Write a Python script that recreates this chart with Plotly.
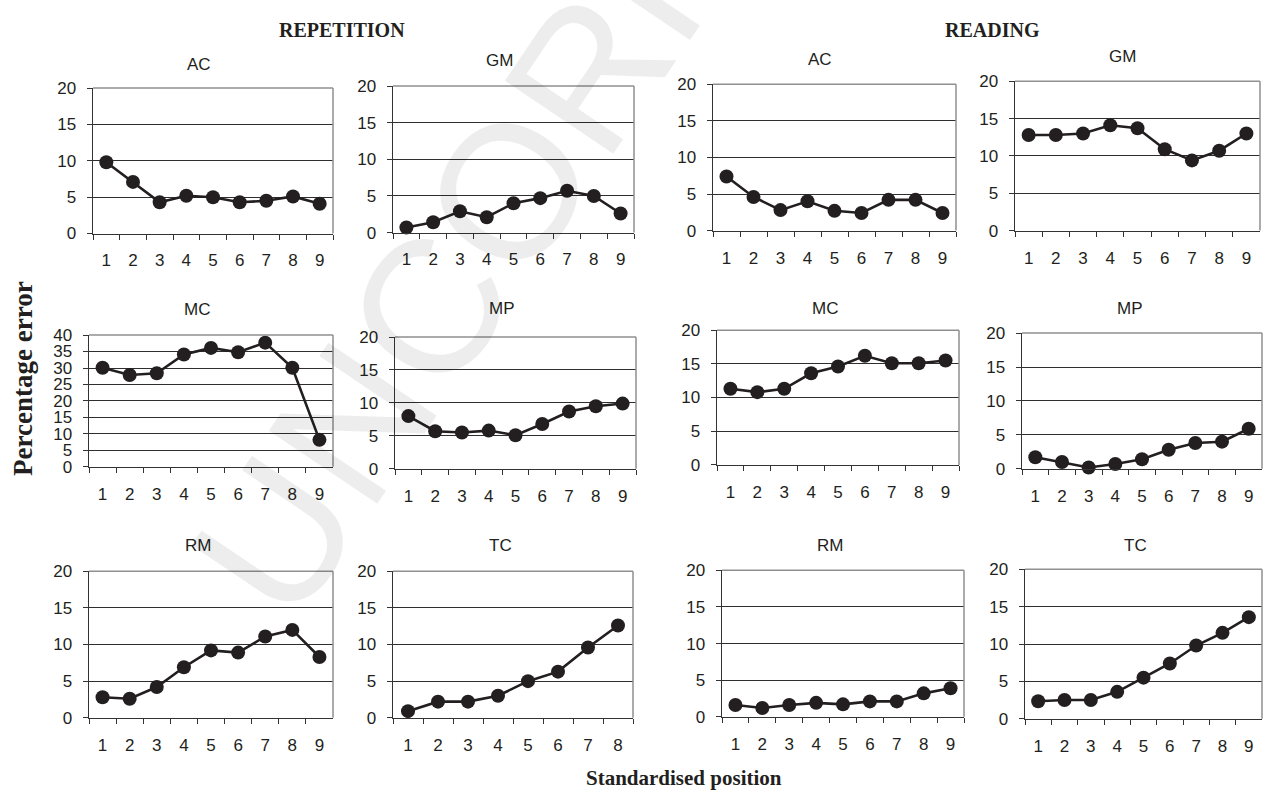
import plotly.graph_objects as go

W, H = 1263, 800

positions9 = ["1", "2", "3", "4", "5", "6", "7", "8", "9"]
positions8 = ["1", "2", "3", "4", "5", "6", "7", "8"]

# Repetition task (percentage error by standardised position)
rep_ac = [9.8, 7.1, 4.3, 5.2, 5.0, 4.3, 4.5, 5.1, 4.1]
rep_gm = [0.7, 1.4, 2.9, 2.1, 4.0, 4.7, 5.7, 5.0, 2.6]
rep_mc = [30.1, 27.9, 28.4, 34.1, 36.1, 34.8, 37.7, 30.1, 8.2]
rep_mp = [8.0, 5.7, 5.5, 5.8, 5.1, 6.8, 8.7, 9.5, 9.9]
rep_rm = [2.8, 2.6, 4.2, 6.9, 9.2, 8.9, 11.1, 12.0, 8.3]
rep_tc = [0.9, 2.2, 2.2, 3.0, 5.0, 6.3, 9.6, 12.6]

# Reading task
read_ac = [7.4, 4.6, 2.8, 4.0, 2.7, 2.4, 4.2, 4.2, 2.4]
read_gm = [12.8, 12.8, 13.0, 14.1, 13.7, 10.9, 9.4, 10.7, 13.0]
read_mc = [11.3, 10.8, 11.3, 13.6, 14.6, 16.2, 15.1, 15.1, 15.5]
read_mp = [1.7, 1.0, 0.2, 0.7, 1.4, 2.8, 3.8, 4.0, 5.9]
read_rm = [1.6, 1.2, 1.6, 1.9, 1.7, 2.1, 2.1, 3.2, 3.9]
read_tc = [2.35, 2.5, 2.5, 3.6, 5.5, 7.4, 9.8, 11.5, 13.6]

y_ticks20 = [0, 5, 10, 15, 20]
y_ticks40 = [0, 5, 10, 15, 20, 25, 30, 35, 40]

# (title, x categories, values, y tick values, plot box px [x0,x1,ytop,ybottom], title px position)
panels = [
    ("AC", positions9, rep_ac, y_ticks20, (93, 333, 81, 230), (199, 57)),
    ("GM", positions9, rep_gm, y_ticks20, (393, 634, 79, 229), (499, 53)),
    ("AC", positions9, read_ac, y_ticks20, (713, 956, 77, 227), (820, 52)),
    ("GM", positions9, read_gm, y_ticks20, (1015, 1260, 74, 227), (1122, 49)),
    ("MC", positions9, rep_mc, y_ticks40, (89, 333, 334, 469), (197, 308)),
    ("MP", positions9, rep_mp, y_ticks20, (395, 636, 336, 471), (502, 307)),
    ("MC", positions9, read_mc, y_ticks20, (717, 959, 329, 467), (825, 307)),
    ("MP", positions9, read_mp, y_ticks20, (1022, 1262, 332, 471), (1130, 307)),
    ("RM", positions9, rep_rm, y_ticks20, (89, 333, 576, 726), (198, 550)),
    ("TC", positions8, rep_tc, y_ticks20, (393, 633, 576, 726), (500, 550)),
    ("RM", positions9, read_rm, y_ticks20, (722, 964, 575, 725), (830, 550)),
    ("TC", positions9, read_tc, y_ticks20, (1025, 1262, 574, 727), (1135, 550)),
]

INK = "#231f20"
AXIS = "#333333"
GRID = "#2e2e2e"
BORDER = "#8f8f8f"
SANS = "Liberation Sans, Arial, sans-serif"
SERIF = "Liberation Serif, Times New Roman, serif"

fig = go.Figure()
annotations = []
shapes = []
layout = {}

def px_x(v):
    return v / W

def px_y(v):
    return 1 - v / H

for i, (title, cats, vals, yt, box, tpos) in enumerate(panels):
    k = "" if i == 0 else str(i + 1)
    x0, x1, yt_px, yb_px = box
    fig.add_trace(go.Scatter(
        x=cats, y=vals, mode="lines+markers",
        line=dict(color=INK, width=2.6),
        marker=dict(color=INK, size=14),
        xaxis="x" + k, yaxis="y" + k, showlegend=False, cliponaxis=False,
        hoverinfo="skip",
    ))
    layout["xaxis" + k] = dict(
        domain=[px_x(x0), px_x(x1)], anchor="y" + k,
        type="category", categoryorder="array", categoryarray=cats,
        range=[-0.5, len(cats) - 0.5], tickson="boundaries",
        ticks="outside", ticklen=5, tickwidth=1, tickcolor=AXIS,
        showline=True, linecolor=AXIS, linewidth=1.5,
        showgrid=False, zeroline=False,
        tickfont=dict(family=SANS, size=17, color=INK),
        ticklabelstandoff=11, fixedrange=True,
    )
    layout["yaxis" + k] = dict(
        domain=[px_y(yb_px), px_y(yt_px)], anchor="x" + k,
        range=[0, yt[-1]], tickvals=yt, ticktext=[str(v) for v in yt],
        ticks="outside", ticklen=5, tickwidth=1, tickcolor=AXIS,
        showline=True, linecolor=AXIS, linewidth=1.5,
        showgrid=True, gridcolor=GRID, gridwidth=1, zeroline=False,
        tickfont=dict(family=SANS, size=17, color=INK),
        ticklabelstandoff=7, fixedrange=True,
    )
    # grey plot-area border (top and right)
    shapes.append(dict(type="line", xref="paper", yref="paper",
                       x0=px_x(x0), x1=px_x(x1), y0=px_y(yt_px), y1=px_y(yt_px),
                       line=dict(color=BORDER, width=1.5), layer="above"))
    shapes.append(dict(type="line", xref="paper", yref="paper",
                       x0=px_x(x1), x1=px_x(x1), y0=px_y(yb_px), y1=px_y(yt_px),
                       line=dict(color=BORDER, width=1.5), layer="above"))
    annotations.append(dict(text=title, xref="paper", yref="paper",
                            x=px_x(tpos[0]), y=px_y(tpos[1]),
                            xanchor="center", yanchor="middle", showarrow=False,
                            font=dict(family=SANS, size=17, color=INK)))

annotations += [
    dict(text="<b>REPETITION</b>", xref="paper", yref="paper", x=px_x(342), y=px_y(22),
         xanchor="center", yanchor="middle", showarrow=False,
         font=dict(family=SERIF, size=20, color=INK)),
    dict(text="<b>READING</b>", xref="paper", yref="paper", x=px_x(992), y=px_y(22),
         xanchor="center", yanchor="middle", showarrow=False,
         font=dict(family=SERIF, size=20, color=INK)),
    dict(text="<b>Percentage error</b>", xref="paper", yref="paper", x=px_x(23), y=px_y(379),
         xanchor="center", yanchor="middle", textangle=-90, showarrow=False,
         font=dict(family=SERIF, size=27, color=INK)),
    dict(text="<b>Standardised position</b>", xref="paper", yref="paper", x=px_x(684), y=px_y(788),
         xanchor="center", yanchor="middle", showarrow=False,
         font=dict(family=SERIF, size=21, color=INK)),
    dict(text="UNCORRECTED", xref="paper", yref="paper", x=px_x(650), y=px_y(-29),
         xanchor="center", yanchor="middle", textangle=-56, showarrow=False,
         font=dict(family=SANS, size=190, color="rgba(0,0,0,0.07)")),
]

fig.update_layout(
    width=W, height=H, margin=dict(l=0, r=0, t=0, b=0),
    paper_bgcolor="white", plot_bgcolor="rgba(0,0,0,0)",
    annotations=annotations, shapes=shapes, showlegend=False,
    hovermode=False,
    **layout,
)

fig.write_html(
    "out.html",
    config={"displayModeBar": False, "staticPlot": True},
    post_script="document.body.style.margin='0';document.body.style.overflow='hidden';",
)
